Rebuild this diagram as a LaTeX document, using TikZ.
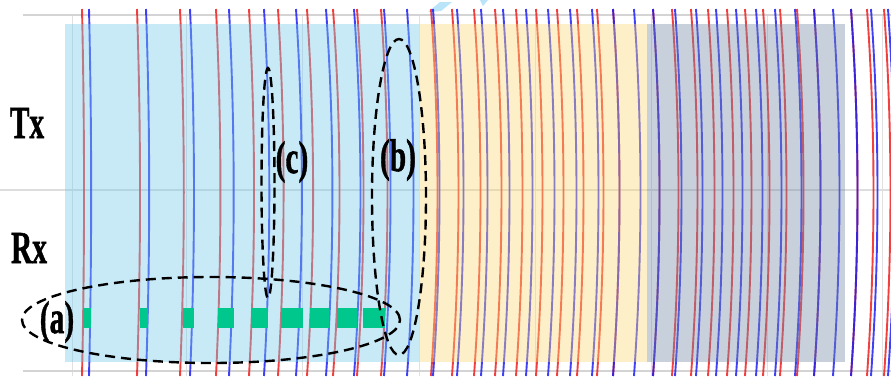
\documentclass[tikz,border=0pt]{standalone}
\usepackage{graphicx}
\usepackage{fontspec}
\setmainfont{Liberation Serif}
\newfontfamily\labfont{Liberation Serif Bold}[FakeBold=1.2]
\usetikzlibrary{shapes.geometric}
\definecolor{lred}{RGB}{238,30,30}
\definecolor{lblue}{RGB}{30,30,242}
\definecolor{ovblue}{RGB}{117,202,235}
\definecolor{ovyellow}{RGB}{250,215,117}
\definecolor{ovgrey}{RGB}{118,137,167}
\definecolor{gridgrey}{RGB}{212,212,212}
\definecolor{bargreen}{RGB}{0,200,140}
\definecolor{wmblue}{RGB}{185,228,250}
\begin{document}
\begin{tikzpicture}[x=0.5pt,y=-0.5pt,
  redline/.style={draw=lred,line width=0.95pt,opacity=0.85},
  blueline/.style={draw=lblue,line width=0.95pt,opacity=0.85},
  gridh/.style={draw=gridgrey,line width=1.4pt},
  gridv/.style={draw=gridgrey!70,line width=0.5pt},
  overlay/.style={fill opacity=0.4,draw=none},
  greenbar/.style={fill=bargreen,draw=none},
  dashell/.style={ellipse,draw=black,line width=1.2pt,dash pattern=on 5pt off 3pt,inner sep=0pt},
  lab/.style={inner sep=0pt,font=\fontsize{23}{23}\selectfont\labfont}]
\useasboundingbox (0,0) rectangle (891,376);
% faint grid
\foreach \gx in {72,186,302,419,535,651,767,882}
  \draw[gridv] (\gx,15) -- (\gx,376);
\draw[gridh] (23,15) -- (891,15);
\draw[gridh,draw=gridgrey!80] (0,190) -- (891,190);
\draw[gridh] (23,371) -- (891,371);
% watermark fragment
\fill[wmblue] (428,12) -- (440,2) -- (452,2) -- (441,11) -- cycle;
\fill[wmblue] (480,0) -- (488,0) -- (483,6) -- cycle;
% red curves
\foreach \x in {82,137,180,216,249,278,307,333,357,381,431,452,474,495,516,536,557,577,597,613,653,672,691,708,727,745,763,780,797,814,851,867,884}{
  \pgfmathsetmacro\k{min(6.5,2+4.5*(\x-80)/250)/0.75}
  \draw[redline] (\x,9) .. controls (\x+\k,131) and (\x+\k,254) .. (\x,376);
}
% blue curves
\foreach \x in {89,146,190,229,264,296,326,354,384,407,433,457,481,503,526,548,570,592,613,634,653,675,696,716,736,756,775,795,814,833,851,871,888}{
  \pgfmathsetmacro\k{min(6.5,2+4.5*(\x-80)/250)/0.75}
  \draw[blueline] (\x,9) .. controls (\x+\k,131) and (\x+\k,254) .. (\x,376);
}
% coloured regions
\fill[overlay,fill=ovblue] (65,24) rectangle (419,362);
\fill[overlay,fill=ovyellow] (419,24) rectangle (647,362);
\fill[overlay,fill=ovgrey] (647,24) rectangle (845,362);
% green bars
\foreach \a/\b in {83/91,140/148,183/194,218/234,251/268,281/303,310/329,337/357,363/385}
  \fill[greenbar] (\a,308) rectangle (\b,328);
% dashed ellipses
\node[dashell,minimum width=189pt,minimum height=43pt] (ea) at (211,320) {};
\node[dashell,minimum width=27pt,minimum height=158pt] (eb) at (399,197) {};
\node[dashell,minimum width=6.5pt,minimum height=115pt] (ec) at (268,183) {};
% labels
\node[lab] (tx) at (27,123) {\scalebox{0.64}[1]{Tx}};
\node[lab] (rx) at (29,248) {\scalebox{0.64}[1]{Rx}};
\node[lab] (la) at (57,322) {\scalebox{0.64}[1]{(a)}};
\node[lab] (lc) at (292,162) {\scalebox{0.64}[1]{(c)}};
\node[lab] (lb) at (398,160) {\scalebox{0.64}[1]{(b)}};
\end{tikzpicture}
\end{document}
